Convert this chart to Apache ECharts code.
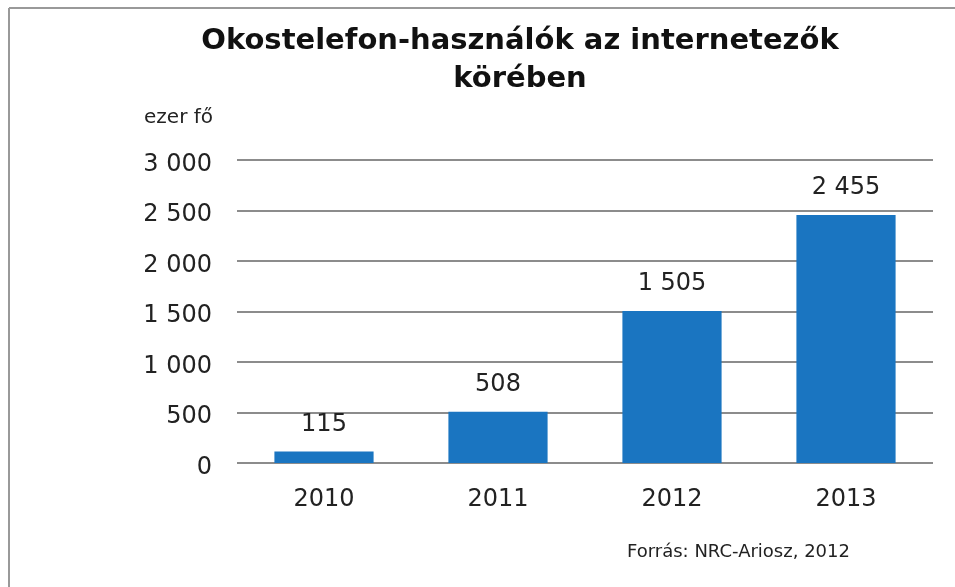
<!DOCTYPE html>
<html><head><meta charset="utf-8">
<script src="https://cdn.jsdelivr.net/npm/echarts@6/dist/echarts.min.js"></script>
<style>html,body{margin:0;padding:0;background:#fff}#c{width:955px;height:587px}</style>
</head><body><div id="c"></div>
<script>
const categories = ['2010', '2011', '2012', '2013'];
const values = [115, 508, 1505, 2455];
const yTicks = [0, 500, 1000, 1500, 2000, 2500, 3000];
const titleText = 'Okostelefon-használók az internetezők\nkörében';
const unitText = 'ezer fő';
const sourceText = 'Forrás: NRC-Ariosz, 2012';

const fmt = v => String(v).replace(/\B(?=(\d{3})+(?!\d))/g, ' ');
const FONT = 'DejaVu Sans';
const chart = echarts.init(document.getElementById('c'));
chart.setOption({
  animation: false,
  backgroundColor: '#fff',
  title: {
    text: titleText, left: 515, top: 17, textAlign: 'center',
    textStyle: {fontFamily: FONT, fontWeight: 'bold', fontSize: 29, lineHeight: 38, color: '#111'}
  },
  grid: {left: 237, right: 22, top: 160, bottom: 124},
  xAxis: {
    type: 'category', data: categories,
    axisLine: {show: false}, axisTick: {show: false},
    axisLabel: {fontFamily: FONT, fontSize: 24, color: '#222', margin: 25}
  },
  yAxis: {
    type: 'value', min: yTicks[0], max: yTicks[yTicks.length - 1], interval: 500,
    axisLine: {show: false}, axisTick: {show: false},
    axisLabel: {
      margin: 25, formatter: v => '{v|' + fmt(v) + '}',
      rich: {v: {fontFamily: FONT, fontSize: 24, color: '#222', padding: [9, 0, 0, 0]}}
    },
    splitLine: {lineStyle: {color: '#8c8c8c', width: 2}}
  },
  series: [{
    type: 'bar', data: values, barWidth: '57%',
    itemStyle: {color: '#1a75c1'},
    label: {show: true, position: 'top', distance: 15, fontFamily: FONT, fontSize: 24, color: '#222', formatter: p => fmt(p.value)}
  }],
  graphic: [
    {type: 'line', shape: {x1: 9, y1: 8, x2: 955, y2: 8}, style: {stroke: '#999', lineWidth: 2}},
    {type: 'line', shape: {x1: 9, y1: 8, x2: 9, y2: 587}, style: {stroke: '#999', lineWidth: 2}},
    {type: 'text', right: 742, top: 108, style: {text: unitText, fontFamily: FONT, fontSize: 20, fill: '#222'}},
    {type: 'text', left: 627, top: 543, style: {text: sourceText, fontFamily: FONT, fontSize: 18, fill: '#222'}}
  ]
});
</script></body></html>
